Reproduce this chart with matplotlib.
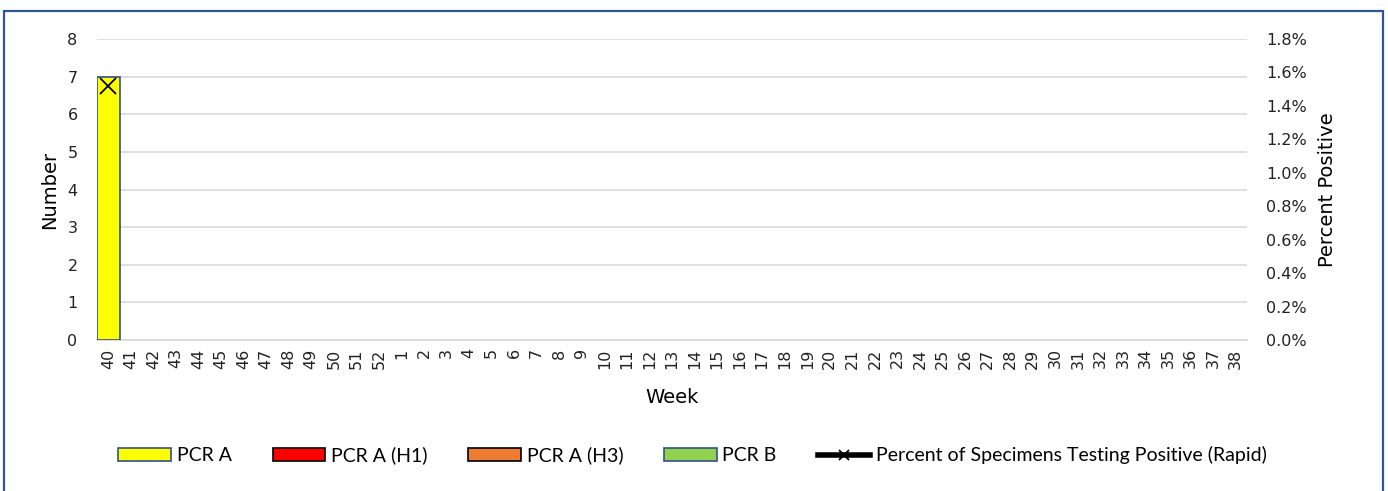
import matplotlib.pyplot as plt
import matplotlib.patches as mpatches
from matplotlib.lines import Line2D
from matplotlib.ticker import FuncFormatter
import numpy as np

weeks = [str(w) for w in list(range(40, 53)) + list(range(1, 39))]
n = len(weeks)

pcr_a = [7] + [0] * (n - 1)
pcr_a_h1 = [0] * n
pcr_a_h3 = [0] * n
pcr_b = [0] * n
pct_rapid = [0.0152] + [None] * (n - 1)

series = [
    ("PCR A", pcr_a, "#FFFF00", "#2F528F"),
    ("PCR A (H1)", pcr_a_h1, "#FF0000", "#000000"),
    ("PCR A (H3)", pcr_a_h3, "#ED7D31", "#000000"),
    ("PCR B", pcr_b, "#92D050", "#2F528F"),
]

plt.rcParams['font.family'] = ['DejaVu Sans']

fig = plt.figure(figsize=(13.88, 4.91), dpi=100)
ax = fig.add_axes([0.0699, 0.3075, 0.8285, 0.6131])
x = np.arange(n)

bottom = np.zeros(n)
handles = []
for label, vals, fc, ec in series:
    v = np.array(vals, dtype=float)
    h = np.where(v > 0, v, np.nan)
    ax.bar(x, h, width=1.0, bottom=bottom, color=fc, edgecolor=ec, linewidth=1.2, zorder=3)
    bottom = bottom + v
    handles.append(mpatches.Patch(facecolor=fc, edgecolor=ec, linewidth=1.2, label=label))

ax.set_xlim(-0.5, n - 0.5)
ax.set_ylim(0, 8)
ax.set_yticks(range(0, 9))
ax.set_xticks(x)
ax.set_xticklabels(weeks, rotation=90)
ax.tick_params(axis='both', length=0, labelsize=11.5, colors='#222222')
ax.tick_params(axis='y', pad=14)
ax.tick_params(axis='x', pad=6)
ax.grid(axis='y', color='#DDDDDD', linewidth=1.3, zorder=0)
for s in ['top', 'right', 'left']:
    ax.spines[s].set_visible(False)
ax.spines['bottom'].set_color('#D9D9D9')
ax.spines['bottom'].set_linewidth(1.3)
ax.set_ylabel("Number", fontsize=14, labelpad=6)
ax.set_xlabel("Week", fontsize=14, labelpad=14)

ax2 = ax.twinx()
pv = np.array([np.nan if p is None else p for p in pct_rapid], dtype=float)
ax2.plot(x, pv, color='black', linewidth=3, marker='x', markersize=11, markeredgewidth=1.3, zorder=5)
ax2.set_ylim(0, 0.018)
ax2.set_yticks(np.arange(0, 0.0181, 0.002))
ax2.yaxis.set_major_formatter(FuncFormatter(lambda v, p: f"{v * 100:.1f}%"))
ax2.tick_params(axis='y', length=0, labelsize=11.5, colors='#222222', pad=14)
for s in ax2.spines.values():
    s.set_visible(False)
ax2.set_ylabel("Percent Positive", fontsize=14, labelpad=8)

handles.append(Line2D([0], [0], color='black', linewidth=4, marker='x', markersize=7,
                      markeredgewidth=1.3, label="Percent of Specimens Testing Positive (Rapid)"))
fig.legend(handles=handles, loc='center', bbox_to_anchor=(0.499, 0.073), ncol=5, frameon=False,
           prop={'family': 'Lato', 'size': 14}, handlelength=2.7, handleheight=0.6,
           handletextpad=0.3, columnspacing=2.1)

border = mpatches.Rectangle((4 / 1388, -0.05), 1379 / 1388, 1.05 - 11 / 491, transform=fig.transFigure,
                            fill=False, edgecolor='#2F5597', linewidth=1.6, clip_on=False)
fig.patches.append(border)

fig.savefig("out.png", dpi=100)
